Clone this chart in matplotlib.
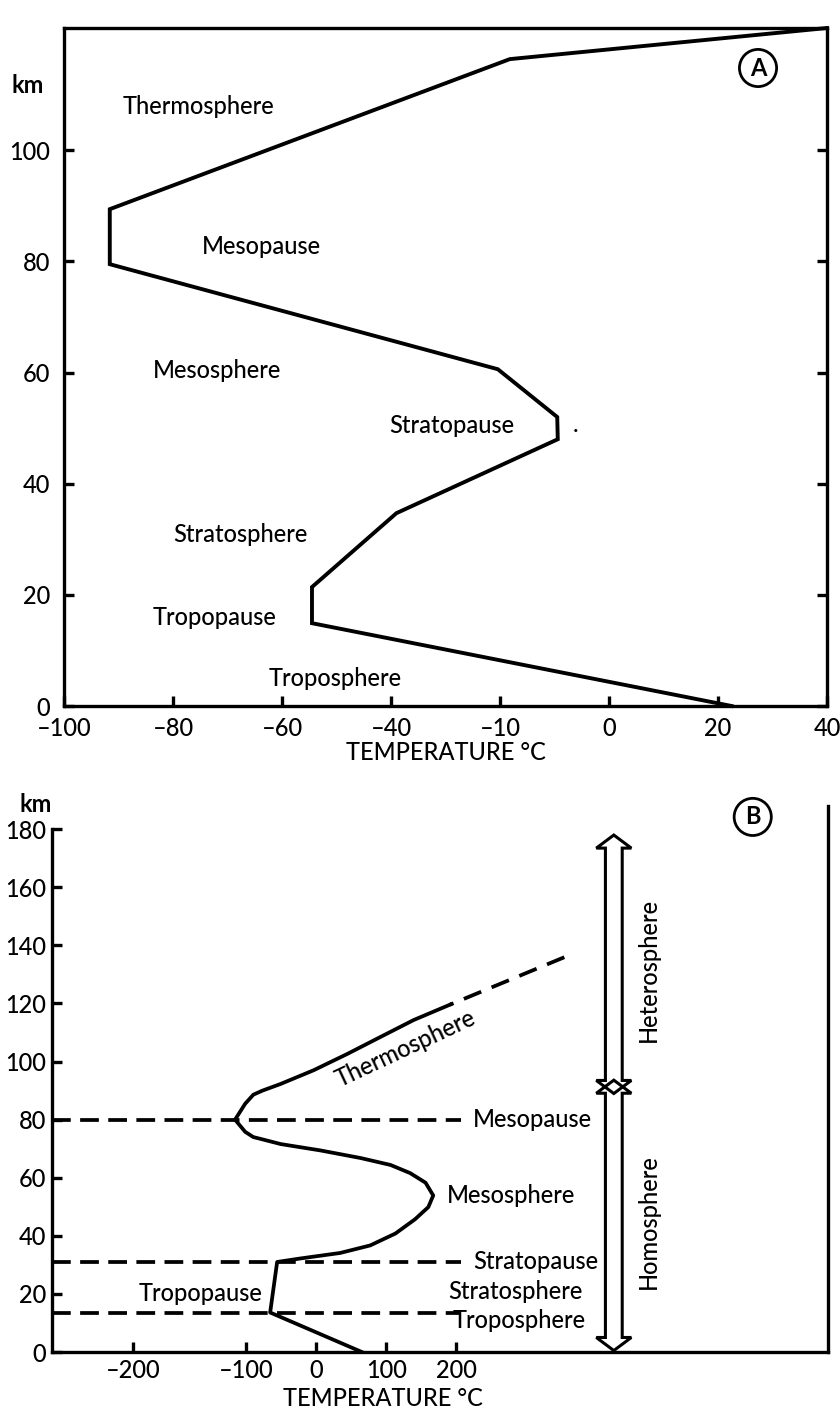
import numpy as np
import matplotlib
matplotlib.use('Agg')
from matplotlib import pyplot as plt
from matplotlib.patches import Polygon

plt.rcParams['font.family'] = ['Lato', 'DejaVu Sans']
plt.rcParams['font.weight'] = 'medium'

# ---- panel A: idealised profile (straight segments) ----
a_temp = [22.5, -54.5, -54.5, -39, -9.4, -9.5, -20.4, -91.6, -91.6, -18.2, 40]
a_alt = [0, 14.9, 21.4, 34.7, 48, 52, 60.6, 79.5, 89.4, 116.4, 122]
a_xticks = [-100, -80, -60, -40, -20, 0, 20, 40]
a_xlabels = ['–100', '–80', '–60', '–40', '–10', '0', '20', '40']
a_yticks = [0, 20, 40, 60, 80, 100]
a_names = ['Thermosphere', 'Mesopause', 'Mesosphere', 'Stratopause',
           'Stratosphere', 'Tropopause', 'Troposphere']
a_name_temp = [-75.4, -63.7, -71.9, -28.8, -67.7, -72.3, -50.3]
a_name_alt = [107.9, 82.6, 60.4, 50.5, 30.9, 16.0, 4.9]

# ---- panel B: smooth profile ----
b_temp = [65, -66, -56, -23, 34, 77, 113, 141, 160, 167, 156, 134, 106, 63,
          6, -51, -80, -90, -101, -110, -101, -90, -77, -51, -4, 44, 91,
          139, 191]
b_alt = [0, 13.6, 31, 32.2, 34.1, 36.7, 40.8, 45.7, 49.9, 53.9, 58.3, 61.6,
         64.4, 66.8, 69.4, 71.6, 73.4, 74, 75.8, 80, 85.5, 88.6, 90, 92.3,
         97, 102.6, 108.4, 114.3, 119.6]
b_ext_temp = [191, 363]
b_ext_alt = [119.6, 136.8]
b_bound_alt = [80, 31, 13.5]
b_bound_end = 207
b_xticks = [-200, -100, 0, 100, 200]
b_xlabels = ['–200', '–100', '0', '100', '200']
b_yticks = [0, 20, 40, 60, 80, 100, 120, 140, 160, 180]
b_names = ['Mesopause', 'Mesosphere', 'Stratopause', 'Stratosphere', 'Troposphere']
b_name_temp = [224, 187, 224, 189, 194]
b_name_alt = [80, 54, 31, 20.7, 11]
b_spheres = ['Heterosphere', 'Homosphere']
b_sphere_range = [(89, 178), (0.5, 93.6)]
b_sphere_alt = [131.6, 45]

LW = 2.4
FS = 17


def fwd(t):
  t = np.asarray(t, dtype=float)
  return np.where(t >= -100, t, -100 + (t + 100) * 1.13 / 0.7)


def inv(u):
  u = np.asarray(u, dtype=float)
  return np.where(u >= -100, u, -100 + (u + 100) * 0.7 / 1.13)


def style_ticks(ax):
  ax.tick_params(direction='in', length=7, width=LW, labelsize=FS)
  for s in ax.spines.values():
    s.set_linewidth(LW)


fig = plt.figure(figsize=(8.4, 14.14), dpi=100)

# ---------------- A ----------------
ax_a = fig.add_axes([64 / 840, 1 - 706 / 1414, 763 / 840, 678 / 1414])
ax_a.plot(a_temp, a_alt, color='black', lw=LW + 0.4, solid_joinstyle='miter',
          clip_on=False)
ax_a.set_xlim(-100, 40)
ax_a.set_ylim(0, 122)
ax_a.set_xticks(a_xticks, a_xlabels)
ax_a.set_yticks(a_yticks)
style_ticks(ax_a)
ax_a.tick_params(axis='y', right=True, pad=10)
ax_a.tick_params(axis='x', pad=8)
for name, t, h in zip(a_names, a_name_temp, a_name_alt):
  ax_a.text(t, h, name, ha='center', va='center', fontsize=FS)
ax_a.text(-6.2, 48.6, '.', ha='center', va='bottom', fontsize=FS)
ax_a.text(-106.6, 111.7, 'km', ha='center', va='center', fontsize=FS,
          fontweight='bold', clip_on=False)
ax_a.text(0.9096, 0.941, 'A', transform=ax_a.transAxes, ha='center',
          va='center', fontsize=FS, fontweight='bold',
          bbox=dict(boxstyle='circle,pad=0.3', fc='white', ec='black', lw=2))
fig.text(446 / 840, 1 - 753 / 1414, 'TEMPERATURE °C', ha='center',
         va='center', fontsize=FS)

# ---------------- B ----------------
ax_b = fig.add_axes([52 / 840, 1 - 1352 / 1414, 776 / 840, 546 / 1414])
ax_b.set_xscale('function', functions=(fwd, inv))
ax_b.set_xlim(-272, 731)
ax_b.set_ylim(0, 188)
ax_b.plot(b_temp, b_alt, color='black', lw=LW + 0.3)
ax_b.plot(b_ext_temp, b_ext_alt, color='black', lw=LW + 0.3,
          linestyle=(4, (5, 3)))
for h in b_bound_alt:
  ax_b.plot([-272, b_bound_end], [h, h], color='black', lw=LW + 0.3,
            linestyle=(0, (5, 2.5)), clip_on=False)

# hollow double arrows for hetero-/homosphere
xc, w, hw, hl = 425, 12, 25, 4.5
for (y0, y1) in b_sphere_range:
  pts = [(xc, y1), (xc + hw, y1 - hl), (xc + w, y1 - hl), (xc + w, y0 + hl),
         (xc + hw, y0 + hl), (xc, y0), (xc - hw, y0 + hl), (xc - w, y0 + hl),
         (xc - w, y1 - hl), (xc - hw, y1 - hl)]
  ax_b.add_patch(Polygon(pts, closed=True, fill=False, ec='black', lw=2.2,
                         joinstyle='miter'))
for name, h in zip(b_spheres, b_sphere_alt):
  ax_b.text(474, h, name, rotation=90, ha='center', va='center', fontsize=FS)

for name, t, h in zip(b_names, b_name_temp, b_name_alt):
  ax_b.text(t, h, name, ha='left', va='center', fontsize=FS)
ax_b.text(-140.7, 20.3, 'Tropopause', ha='center', va='center', fontsize=FS)
ax_b.text(127, 104.6, 'Thermosphere', rotation=25, rotation_mode='anchor',
          ha='center', va='center', fontsize=FS)
ax_b.text(-286.7, 188.6, 'km', ha='center', va='center', fontsize=FS,
          fontweight='bold', clip_on=False)
ax_b.text(0.903, 0.980, 'B', transform=ax_b.transAxes, ha='center',
          va='center', fontsize=FS, fontweight='bold',
          bbox=dict(boxstyle='circle,pad=0.3', fc='white', ec='black', lw=2))

ax_b.set_xticks(b_xticks, b_xlabels)
ax_b.set_yticks(b_yticks)
ax_b.xaxis.set_minor_locator(plt.NullLocator())
style_ticks(ax_b)
ax_b.tick_params(axis='y', pad=4)
ax_b.tick_params(axis='x', pad=5)
ax_b.spines['top'].set_visible(False)
ax_b.spines['left'].set_bounds(0, 180)
fig.text(383 / 840, 1 - 1398 / 1414, 'TEMPERATURE °C', ha='center',
         va='center', fontsize=FS)

fig.savefig('out.png', dpi=100)
